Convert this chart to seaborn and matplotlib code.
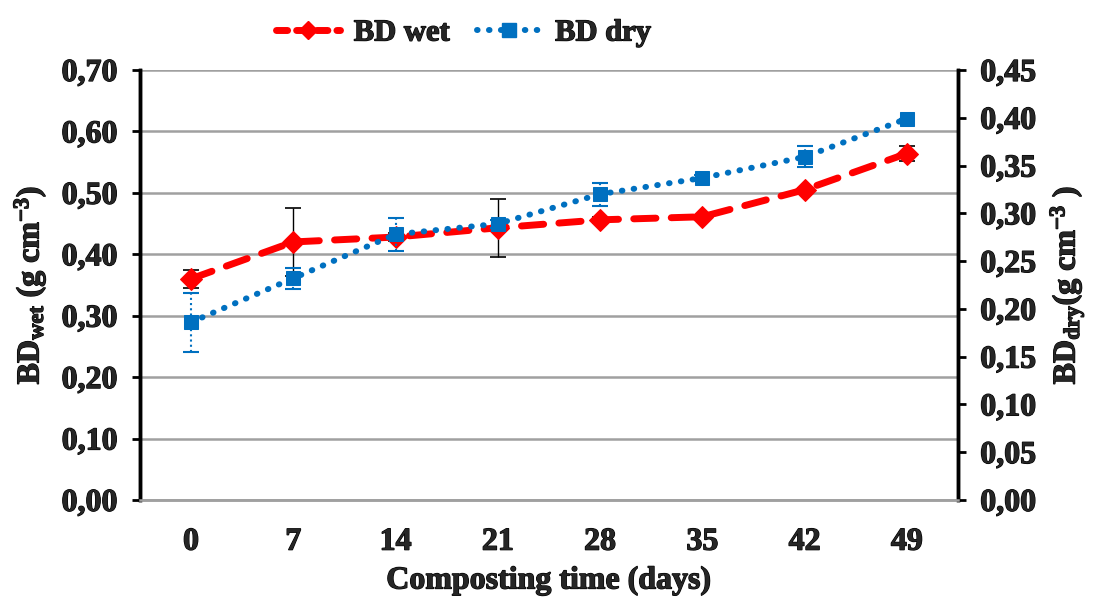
import matplotlib
matplotlib.use("Agg")
import matplotlib.pyplot as plt
import matplotlib.patheffects as pe
import seaborn as sns
import pandas as pd
from matplotlib.lines import Line2D

days = [0, 7, 14, 21, 28, 35, 42, 49]
bd_wet = [0.360, 0.420, 0.428, 0.443, 0.456, 0.461, 0.505, 0.564]
bd_wet_err = [0.015, 0.055, 0.007, 0.047, 0.005, 0.003, 0.003, 0.012]
bd_dry = [0.186, 0.232, 0.278, 0.289, 0.320, 0.337, 0.359, 0.399]
bd_dry_err = [0.031, 0.011, 0.017, 0.004, 0.012, 0.003, 0.011, 0.0]
left_ticks = [0.0, 0.1, 0.2, 0.3, 0.4, 0.5, 0.6, 0.7]
left_labels = ["0,00", "0,10", "0,20", "0,30", "0,40", "0,50", "0,60", "0,70"]
right_ticks = [0.0, 0.05, 0.10, 0.15, 0.20, 0.25, 0.30, 0.35, 0.40, 0.45]
right_labels = ["0,00", "0,05", "0,10", "0,15", "0,20", "0,25", "0,30", "0,35", "0,40", "0,45"]

sns.set_theme(style="white")
plt.rcParams['font.family'] = ['Liberation Serif', 'DejaVu Serif']
plt.rcParams['font.weight'] = 'bold'
plt.rcParams['mathtext.fontset'] = 'custom'
plt.rcParams['mathtext.rm'] = 'Liberation Serif:bold'
plt.rcParams['mathtext.it'] = 'Liberation Serif:bold'
plt.rcParams['mathtext.bf'] = 'Liberation Serif:bold'

RED = "#FF0000"
BLUE = "#0070C0"
FS = 23
THICK = [pe.withStroke(linewidth=0.9, foreground='black')]

df = pd.DataFrame({"day": days, "wet": bd_wet, "dry": bd_dry})

fig = plt.figure(figsize=(10.93, 5.98), dpi=100)
ax = fig.add_axes([0.128, 0.164, 0.7485, 0.719])
ax2 = ax.twinx()

# error bars
ax.errorbar(days, bd_wet, yerr=bd_wet_err, fmt='none', ecolor='black',
            elinewidth=1.0, capsize=6, capthick=1.2, zorder=2)
eb = ax2.errorbar(days, bd_dry, yerr=bd_dry_err, fmt='none', ecolor=BLUE,
                  elinewidth=1.5, capsize=6, capthick=1.5, zorder=2)
for c in eb[2]:
    c.set_linestyle((0, (1, 1.5)))

sns.lineplot(data=df, x="day", y="wet", ax=ax, color=RED, linewidth=5,
             linestyle=(0, (3.2, 2.2)), marker="D", markersize=11,
             markeredgecolor=RED, markerfacecolor=RED, zorder=4)
sns.lineplot(data=df, x="day", y="dry", ax=ax2, color=BLUE, linewidth=4.3,
             linestyle=(0, (0.1, 1.9)), marker="s",
             markersize=10, markeredgecolor=BLUE, markerfacecolor=BLUE, zorder=5)
for ln in ax.get_lines() + ax2.get_lines():
    ln.set_dash_capstyle('round')

ax.set_xlim(-3.5, 52.5)
ax.set_ylim(0, 0.70)
ax2.set_ylim(0, 0.45)
ax.set_xticks(days)
ax.set_xticklabels([str(d) for d in days])
ax.set_yticks(left_ticks)
ax.set_yticklabels(left_labels)
ax2.set_yticks(right_ticks)
ax2.set_yticklabels(right_labels)

ax.yaxis.grid(True, color="#A0A0A0", linewidth=1.8)
ax.set_axisbelow(True)
ax2.grid(False)

for a in (ax, ax2):
    a.spines['top'].set_visible(False)
    a.spines['bottom'].set_color('#A0A0A0')
    a.spines['bottom'].set_linewidth(1.8)
    a.spines['left'].set_color('black')
    a.spines['left'].set_linewidth(2.5)
    a.spines['right'].set_color('black')
    a.spines['right'].set_linewidth(2.5)

ax.tick_params(axis='y', which='major', direction='out', length=6, width=2,
               color='black', labelsize=FS, left=True, pad=10)
ax2.tick_params(axis='y', which='major', direction='out', length=6, width=2,
                color='black', labelsize=FS, right=True, pad=10)
ax.tick_params(axis='x', bottom=False, labelsize=FS, pad=14)
for lab in ax.get_xticklabels() + ax.get_yticklabels() + ax2.get_yticklabels():
    lab.set_fontweight('bold')
    lab.set_path_effects(THICK)

xl = ax.set_xlabel("Composting time (days)", fontsize=FS, fontweight='bold', labelpad=7)
yl = ax.set_ylabel(r"BD$_{wet}$ (g cm$^{-3}$)", fontsize=FS, fontweight='bold', labelpad=10)
yl2 = ax2.set_ylabel(r"BD$_{dry}$(g cm$^{-3}$ )", fontsize=FS, fontweight='bold',
                     rotation=90, labelpad=8)
for t in (xl, yl, yl2):
    t.set_path_effects(THICK)

handles = [
    Line2D([0], [0], color=RED, linewidth=5, linestyle=(0, (1.6, 1.3)), marker="D",
           markersize=9, markerfacecolor=RED, markeredgecolor=RED,
           dash_capstyle='round'),
    Line2D([0], [0], color=BLUE, linewidth=4.3, linestyle=(0, (0.1, 1.9)),
           dash_capstyle='round', marker="s", markersize=10,
           markerfacecolor=BLUE, markeredgecolor=BLUE),
]
leg = fig.legend(handles, ["BD wet", "BD dry"], loc='upper center',
                 bbox_to_anchor=(0.424, 1.015), ncol=2, frameon=False,
                 prop={'family': 'Liberation Serif', 'weight': 'bold', 'size': 22},
                 handlelength=2.1, columnspacing=0.9, handletextpad=0.45)
for t in leg.get_texts():
    t.set_path_effects(THICK)

fig.savefig("out.png", dpi=100)
